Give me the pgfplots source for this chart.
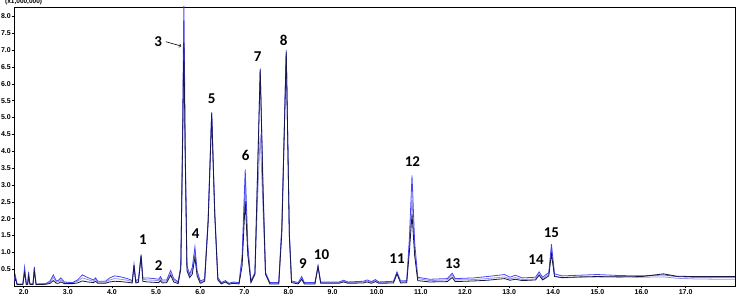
\documentclass[border=0pt]{standalone}
\usepackage{fontspec}
\setmainfont{Liberation Sans}
\newfontfamily\calib{Carlito}
\usepackage{pgfplots}
\pgfplotsset{compat=1.18}
\definecolor{cblue}{RGB}{70,70,245}
\definecolor{clav}{RGB}{150,145,225}
\definecolor{cdark}{RGB}{25,25,70}
\begin{document}
\begin{tikzpicture}[x=1pt,y=1pt]
\begin{axis}[
  at={(0,0)}, anchor=south west,
  scale only axis, width=721pt, height=279pt,
  xmin=1.78, xmax=18.12, ymin=0, ymax=8.28,
  xtick={2,3,...,17}, ytick={0.5,1.0,1.5,2.0,2.5,3.0,3.5,4.0,4.5,5.0,5.5,6.0,6.5,7.0,7.5,8.0},
  minor x tick num=4,
  tick align=outside, major tick length=2.5pt, minor tick length=1.5pt,
  tick pos=left,
  axis line style={line width=0.7pt},
  tick style={line width=0.5pt, black},
  ticklabel style={font=\bfseries\fontsize{7}{8}\selectfont},
  xticklabel style={inner sep=1pt},
  yticklabel style={inner sep=0.5pt},
  /pgf/number format/.cd, fixed, fixed zerofill, precision=1, assume math mode=true,
]
\addplot[clav, line width=0.8pt] coordinates {
(1.78,0.12)(1.81,0.25)(1.85,0.05)(1.98,0.05)(2.02,0.45)(2.06,0.05)(2.09,0.06)(2.11,0.35)(2.14,0.06)(2.21,0.05)(2.24,0.48)(2.28,0.05)(2.50,0.06)(2.60,0.12)(2.67,0.25)(2.74,0.12)(2.79,0.13)(2.84,0.18)(2.92,0.10)(3.10,0.09)(3.22,0.14)(3.33,0.24)(3.45,0.19)(3.58,0.14)(3.63,0.20)(3.68,0.11)(3.85,0.11)(3.95,0.18)(4.06,0.22)(4.20,0.20)(4.35,0.17)(4.46,0.13)(4.50,0.55)(4.54,0.13)(4.60,0.16)(4.66,0.85)(4.70,0.20)(4.80,0.18)(4.95,0.17)(5.06,0.16)(5.10,0.22)(5.14,0.14)(5.24,0.14)(5.33,0.38)(5.40,0.18)(5.50,0.10)(5.56,0.5)(5.60,4.0)(5.63,7.1)(5.66,3.8)(5.70,0.5)(5.76,0.3)(5.82,0.45)(5.88,0.98)(5.93,0.38)(6.00,0.12)(6.10,0.17)(6.18,1.9)(6.26,5.05)(6.33,2.1)(6.40,0.2)(6.48,0.08)(6.57,0.13)(6.65,0.07)(6.75,0.10)(6.88,0.08)(6.95,0.8)(7.02,3.0)(7.08,1.0)(7.15,0.12)(7.24,0.35)(7.30,2.6)(7.36,4.5)(7.42,2.4)(7.48,0.35)(7.58,0.08)(7.78,0.08)(7.85,1.7)(7.95,6.9)(8.02,1.5)(8.07,0.12)(8.22,0.08)(8.30,0.22)(8.36,0.08)(8.60,0.08)(8.67,0.55)(8.73,0.10)(9.15,0.10)(9.25,0.14)(9.35,0.10)(9.7,0.12)(9.78,0.15)(9.88,0.11)(9.97,0.16)(10.05,0.10)(10.38,0.12)(10.46,0.38)(10.54,0.12)(10.68,0.14)(10.74,1.2)(10.80,2.6)(10.86,1.0)(10.93,0.22)(11.2,0.16)(11.6,0.18)(11.71,0.32)(11.78,0.18)(12.2,0.19)(12.5,0.22)(12.9,0.27)(13.02,0.21)(13.14,0.25)(13.3,0.19)(13.6,0.21)(13.68,0.36)(13.76,0.21)(13.90,0.35)(13.96,1.05)(14.03,0.3)(14.2,0.24)(14.6,0.26)(15.0,0.27)(15.5,0.27)(16.0,0.26)(16.5,0.27)(16.8,0.23)(17.2,0.21)(17.8,0.20)(18.12,0.20)
};
\addplot[cblue, line width=0.8pt] coordinates {
(1.78,0.15)(1.81,0.32)(1.85,0.06)(1.98,0.06)(2.02,0.56)(2.06,0.06)(2.09,0.07)(2.11,0.42)(2.14,0.07)(2.21,0.06)(2.24,0.56)(2.28,0.06)(2.50,0.07)(2.60,0.15)(2.67,0.33)(2.74,0.15)(2.79,0.17)(2.84,0.24)(2.92,0.12)(3.10,0.10)(3.22,0.18)(3.33,0.33)(3.45,0.25)(3.58,0.18)(3.63,0.24)(3.68,0.14)(3.85,0.14)(3.95,0.24)(4.06,0.30)(4.20,0.27)(4.35,0.22)(4.46,0.16)(4.50,0.65)(4.54,0.16)(4.60,0.20)(4.66,0.94)(4.70,0.24)(4.80,0.24)(4.95,0.22)(5.06,0.20)(5.10,0.28)(5.14,0.18)(5.24,0.18)(5.33,0.46)(5.40,0.22)(5.50,0.12)(5.56,0.6)(5.60,4.5)(5.63,8.6)(5.66,4.2)(5.70,0.6)(5.76,0.35)(5.82,0.55)(5.88,1.16)(5.93,0.45)(6.00,0.15)(6.10,0.20)(6.18,2.0)(6.26,5.16)(6.33,2.2)(6.40,0.25)(6.48,0.10)(6.57,0.16)(6.65,0.08)(6.75,0.12)(6.88,0.10)(6.95,0.9)(7.02,3.46)(7.08,1.2)(7.15,0.15)(7.24,0.4)(7.30,3.4)(7.36,6.46)(7.42,3.2)(7.48,0.4)(7.58,0.10)(7.78,0.10)(7.85,1.8)(7.95,7.0)(8.02,1.6)(8.07,0.15)(8.22,0.10)(8.30,0.28)(8.36,0.10)(8.60,0.10)(8.67,0.60)(8.73,0.12)(9.15,0.12)(9.25,0.17)(9.35,0.12)(9.7,0.14)(9.78,0.18)(9.88,0.13)(9.97,0.19)(10.05,0.12)(10.38,0.14)(10.46,0.42)(10.54,0.15)(10.68,0.16)(10.74,1.4)(10.80,3.28)(10.86,1.3)(10.93,0.26)(11.2,0.20)(11.6,0.22)(11.71,0.38)(11.78,0.22)(12.2,0.24)(12.5,0.28)(12.9,0.34)(13.02,0.26)(13.14,0.32)(13.3,0.24)(13.6,0.26)(13.68,0.42)(13.76,0.26)(13.90,0.40)(13.96,1.24)(14.03,0.36)(14.2,0.30)(14.6,0.32)(15.0,0.34)(15.5,0.31)(16.0,0.30)(16.5,0.33)(16.8,0.28)(17.2,0.26)(17.8,0.26)(18.12,0.26)
};
\addplot[cdark, line width=0.8pt] coordinates {
(1.78,0.10)(1.81,0.22)(1.85,0.04)(1.98,0.04)(2.02,0.40)(2.06,0.04)(2.09,0.05)(2.11,0.30)(2.14,0.05)(2.21,0.04)(2.24,0.45)(2.28,0.04)(2.50,0.05)(2.60,0.08)(2.67,0.16)(2.74,0.08)(2.79,0.08)(2.84,0.12)(2.92,0.07)(3.10,0.07)(3.22,0.09)(3.33,0.15)(3.45,0.12)(3.58,0.10)(3.63,0.14)(3.68,0.08)(3.85,0.08)(3.95,0.12)(4.06,0.14)(4.20,0.13)(4.35,0.11)(4.46,0.09)(4.50,0.62)(4.54,0.09)(4.60,0.11)(4.66,0.90)(4.70,0.14)(4.80,0.12)(4.95,0.11)(5.06,0.10)(5.10,0.16)(5.14,0.09)(5.24,0.10)(5.33,0.32)(5.40,0.12)(5.50,0.07)(5.56,0.5)(5.60,4.2)(5.63,7.22)(5.66,3.9)(5.70,0.45)(5.76,0.25)(5.82,0.35)(5.88,0.85)(5.93,0.3)(6.00,0.08)(6.10,0.14)(6.18,1.9)(6.26,5.12)(6.33,2.1)(6.40,0.18)(6.48,0.06)(6.57,0.12)(6.65,0.05)(6.75,0.08)(6.88,0.06)(6.95,0.6)(7.02,2.52)(7.08,0.9)(7.15,0.10)(7.24,0.35)(7.30,3.3)(7.36,6.42)(7.42,3.0)(7.48,0.35)(7.58,0.06)(7.78,0.06)(7.85,1.6)(7.95,6.95)(8.02,1.5)(8.07,0.1)(8.22,0.06)(8.30,0.20)(8.36,0.06)(8.60,0.06)(8.67,0.58)(8.73,0.08)(9.15,0.08)(9.25,0.12)(9.35,0.08)(9.7,0.09)(9.78,0.12)(9.88,0.08)(9.97,0.13)(10.05,0.08)(10.38,0.09)(10.46,0.36)(10.54,0.09)(10.68,0.10)(10.74,1.0)(10.80,2.13)(10.86,0.9)(10.93,0.16)(11.2,0.12)(11.6,0.13)(11.71,0.25)(11.78,0.13)(12.2,0.15)(12.5,0.17)(12.9,0.22)(13.02,0.17)(13.14,0.20)(13.3,0.16)(13.6,0.18)(13.68,0.32)(13.76,0.18)(13.90,0.3)(13.96,0.95)(14.03,0.28)(14.2,0.25)(14.6,0.27)(15.0,0.28)(15.5,0.27)(16.0,0.28)(16.5,0.36)(16.8,0.29)(17.2,0.28)(17.8,0.28)(18.12,0.28)
};
\begin{scope}[every node/.style={font=\calib\bfseries\fontsize{15}{15}\selectfont, inner sep=0pt}]
\node at (axis cs:4.70,1.39) {1};
\node at (axis cs:5.06,0.62) {2};
\node at (axis cs:5.05,7.25) {3};
\node at (axis cs:5.90,1.54) {4};
\node at (axis cs:6.26,5.56) {5};
\node at (axis cs:7.03,3.88) {6};
\node at (axis cs:7.30,6.80) {7};
\node at (axis cs:7.89,7.28) {8};
\node at (axis cs:8.33,0.66) {9};
\node at (axis cs:8.75,0.92) {10};
\node at (axis cs:10.46,0.80) {11};
\node at (axis cs:10.81,3.70) {12};
\node at (axis cs:11.72,0.65) {13};
\node at (axis cs:13.61,0.77) {14};
\node at (axis cs:13.96,1.57) {15};
\end{scope}
\draw[->, line width=0.6pt] (axis cs:5.22,7.25) -- (axis cs:5.57,7.12);
\end{axis}
\node[anchor=south west, inner sep=0pt, font=\bfseries\fontsize{6.5}{7}\selectfont] at (-9,280.5) {(x1,000,000)};
\pgfresetboundingbox
\path[use as bounding box] (-14,-13) rectangle (722,286);
\end{tikzpicture}
\end{document}
